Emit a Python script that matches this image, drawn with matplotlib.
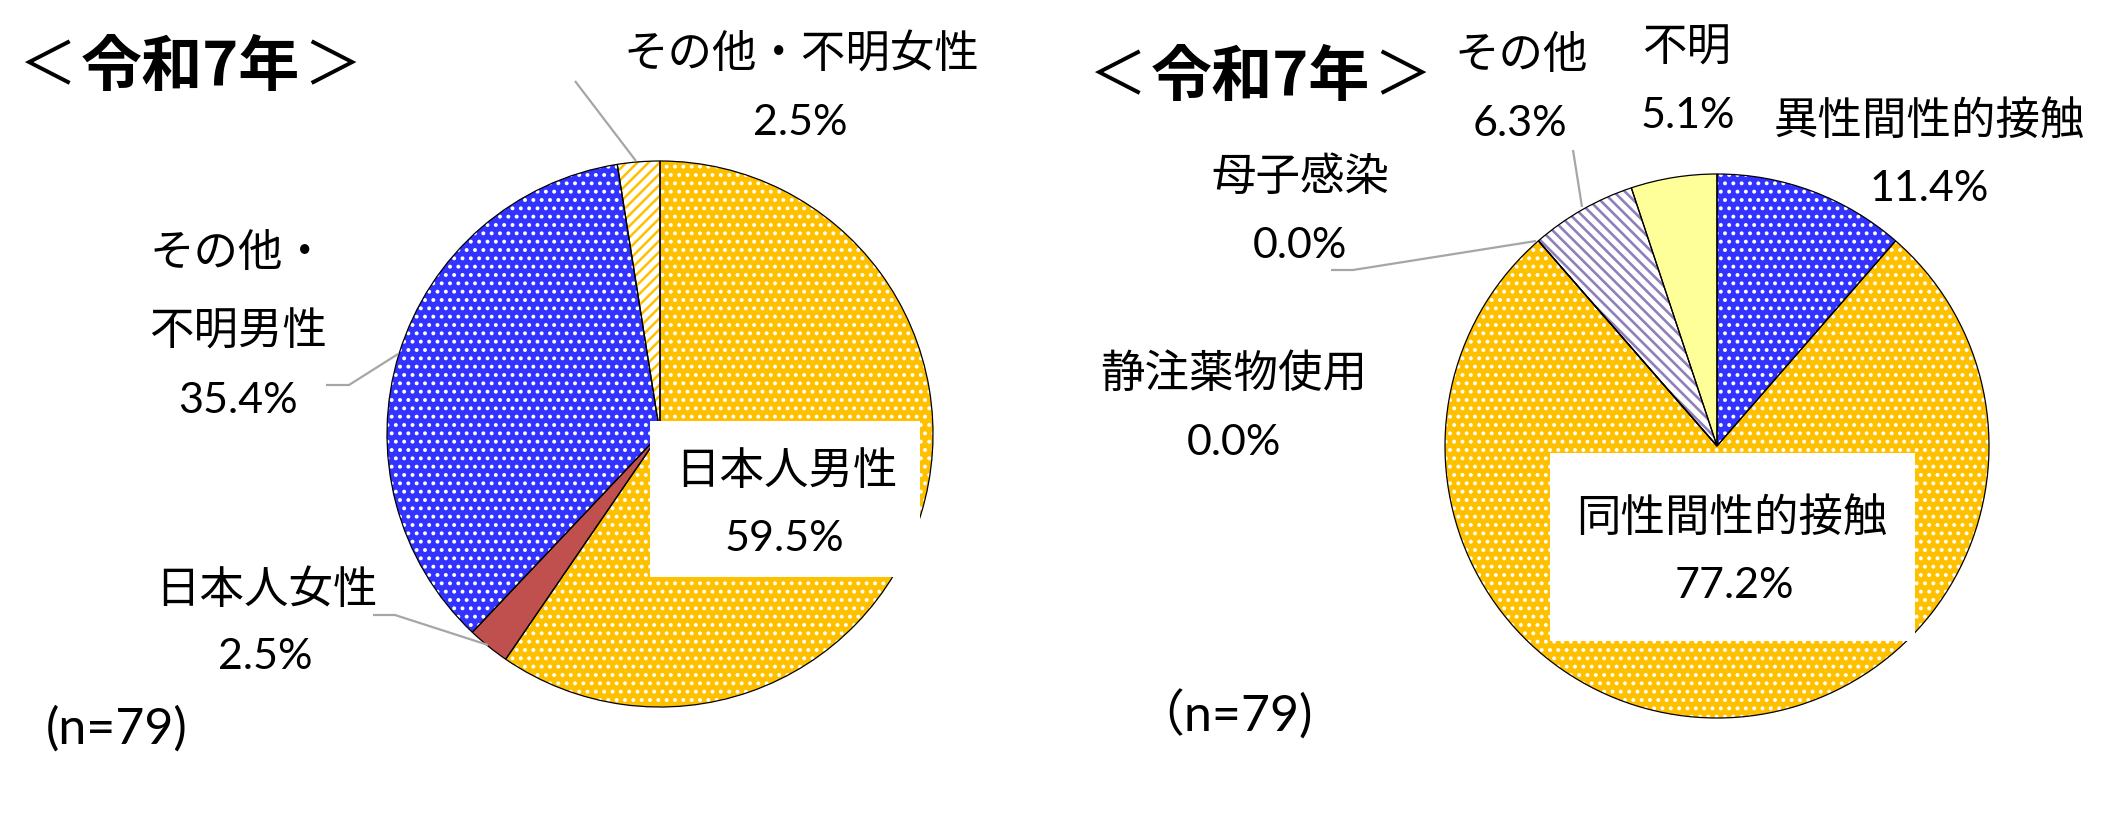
import matplotlib
matplotlib.use("Agg")
import matplotlib.pyplot as plt

plt.rcParams['font.family'] = ['Lato', 'Noto Sans CJK JP', 'DejaVu Sans']
plt.rcParams['hatch.linewidth'] = 1.6

# ---------------- data ----------------
title_open, title_core, title_close = "＜", "令和7年", "＞"
n_text_left = "(n=79)"
n_text_right = "（n=79)"

left_labels = ["日本人男性", "日本人女性", "その他・不明男性", "その他・不明女性"]
left_values = [59.5, 2.5, 35.4, 2.5]

right_labels = ["異性間性的接触", "同性間性的接触", "静注薬物使用", "母子感染", "その他", "不明"]
right_values = [11.4, 77.2, 0.0, 0.0, 6.3, 5.1]

# ---------------- styles ----------------
ORANGE = "#FFC000"
BLUE = "#3333FF"
RED = "#C0504D"
YELLOW = "#FFFF99"
PURPLE = "#8F80BC"

left_faces = [ORANGE, RED, BLUE, "white"]
left_hatches = ["..", None, "..", "///"]
left_hcolors = ["white", None, "white", ORANGE]
left_hlw = [1.6, None, 1.6, 1.8]

right_faces = [BLUE, ORANGE, ORANGE, ORANGE, "white", YELLOW]
right_hatches = ["..", "..", None, None, "\\\\\\", None]
right_hcolors = ["white", "white", None, None, PURPLE, None]
right_hlw = [1.6, 1.6, None, None, 1.9, None]

W, H = 2125, 813
fig = plt.figure(figsize=(W / 100, H / 100), dpi=100)
ax = fig.add_axes([0, 0, 1, 1])


def Y(y):
    return H - y


def draw_pie(values, faces, hatches, hcolors, hlws, cx, cy, r):
    wedges, _ = ax.pie(values, colors=faces, startangle=90, counterclock=False,
                       center=(cx, Y(cy)), radius=r, frame=True,
                       wedgeprops=dict(linewidth=0, edgecolor="none"))
    for w, h, hc, hl in zip(wedges, hatches, hcolors, hlws):
        if h:
            w.set_hatch(h)
            w.set_edgecolor(hc)
            w.set_linewidth(0)
            if hasattr(w, "set_hatch_linewidth"):
                w.set_hatch_linewidth(hl)
    ax.pie(values, startangle=90, counterclock=False, center=(cx, Y(cy)),
           radius=r, frame=True,
           wedgeprops=dict(fill=False, edgecolor="black", linewidth=0.9))


def txt(s, x, y, size=32, **kw):
    ax.text(x, Y(y), s, fontsize=size, ha="center", va="center", color="black", **kw)


def title(x0, y):
    ax.text(x0 + 21, Y(y), title_open, fontsize=42, ha="center", va="center",
            family=["Noto Sans CJK JP"])
    ax.text(x0 + 163, Y(y), title_core, fontsize=44, fontweight="bold", ha="center",
            va="center", family=["Noto Sans CJK JP"])
    ax.text(x0 + 305, Y(y), title_close, fontsize=42, ha="center", va="center",
            family=["Noto Sans CJK JP"])


def leader(xs, ys):
    ax.plot(xs, [Y(v) for v in ys], color="#A6A6A6", lw=1.6, solid_capstyle="butt",
            zorder=3)


# ---------------- left pie ----------------
draw_pie(left_values, left_faces, left_hatches, left_hcolors, left_hlw, 660, 434, 273)
ax.add_patch(plt.Rectangle((650, Y(577)), 270, 156, facecolor="white",
                           edgecolor="none", zorder=4))

title(27, 68)

txt(left_labels[3], 801, 55)
txt(f"{left_values[3]:.1f}%", 800, 123, size=31)
leader([575, 636], [81, 161])

txt("その他・", 238, 254)
txt("不明男性", 238, 332)
txt(f"{left_values[2]:.1f}%", 238, 401, size=31)
leader([326, 349, 398], [385, 385, 354])

txt(left_labels[1], 266, 590)
txt(f"{left_values[1]:.1f}%", 265, 657, size=31)
leader([373, 395, 488], [615, 615, 645])

txt(left_labels[0], 786, 471, zorder=5)
txt(f"{left_values[0]:.1f}%", 784, 539, size=31, zorder=5)

txt(n_text_left, 117, 729, size=36)

# ---------------- right pie ----------------
draw_pie(right_values, right_faces, right_hatches, right_hcolors, right_hlw, 1717, 446, 272)
ax.add_patch(plt.Rectangle((1550, Y(641)), 365, 188, facecolor="white",
                           edgecolor="none", zorder=4))

title(1097, 78)

txt(right_labels[4], 1521, 55)
txt(f"{right_values[4]:.1f}%", 1520, 124, size=31)
leader([1573, 1582], [150, 207])

txt(right_labels[5], 1687, 48)
txt(f"{right_values[5]:.1f}%", 1688, 116, size=31)

txt(right_labels[0], 1929, 121)
txt(f"{right_values[0]:.1f}%", 1929, 189, size=31)

txt(right_labels[3], 1300, 177)
txt(f"{right_values[3]:.1f}%", 1300, 246, size=31)
leader([1331, 1353, 1536], [270, 270, 241])

txt(right_labels[2], 1234, 374)
txt(f"{right_values[2]:.1f}%", 1234, 443, size=31)

txt(right_labels[1], 1732, 518, zorder=5)
txt(f"{right_values[1]:.1f}%", 1734, 586, size=31, zorder=5)

txt(n_text_right, 1223, 715, size=36)

ax.set_xlim(0, W)
ax.set_ylim(0, H)
ax.set_aspect("equal")
ax.axis("off")

fig.savefig("out.png", dpi=100, facecolor="white")
